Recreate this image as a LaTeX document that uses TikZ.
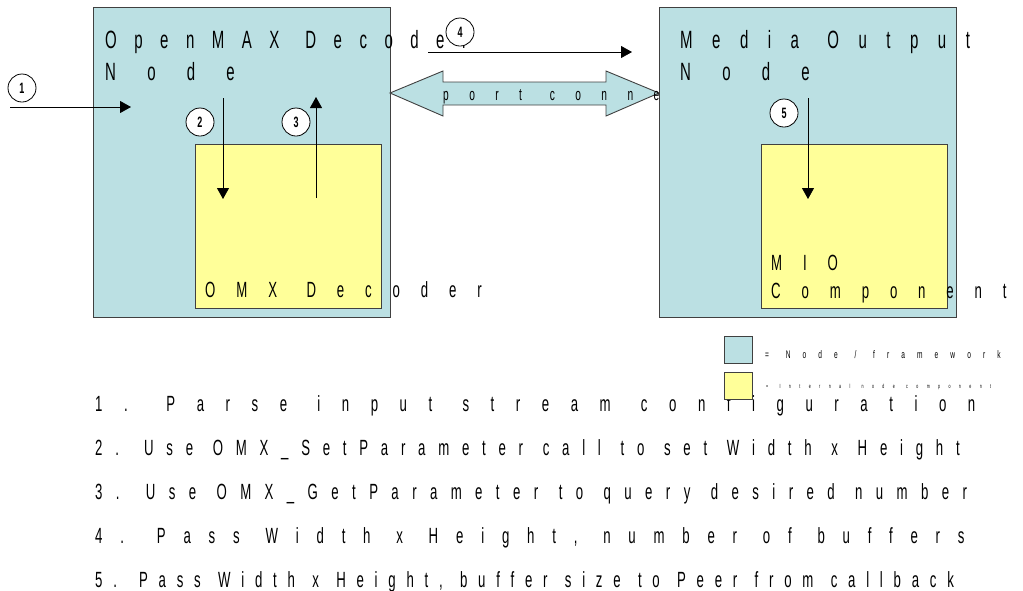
\documentclass[tikz,border=0pt]{standalone}
\usepackage{fontspec}
\setmainfont{Liberation Sans}
\newfontfamily\narrowfont{Liberation Sans}[FakeStretch=0.6,WordSpace=1.2]
\usetikzlibrary{arrows.meta}
\definecolor{nodeblue}{RGB}{187,224,227}
\definecolor{compyellow}{RGB}{255,255,153}
\definecolor{edgegray}{RGB}{64,64,64}
\begin{document}
\begin{tikzpicture}[x=1pt,y=-1pt,
  bluebox/.style={draw=edgegray, line width=0.9pt, fill=nodeblue, anchor=north west, inner sep=0pt},
  yellowbox/.style={draw=edgegray, line width=0.9pt, fill=compyellow, anchor=north west, inner sep=0pt},
  spaced/.style 2 args={anchor=base west, inner sep=0pt, font=\narrowfont\fontsize{#1}{#1}\selectfont\addfontfeature{LetterSpace=#2}},
  titletext/.style={spaced={25}{70}},
  titlewide/.style={spaced={25}{125}},
  comptext/.style={spaced={22}{95}},
  porttext/.style={spaced={17}{120}},
  stepnum/.style={circle, draw=black, line width=0.8pt, fill=white, minimum size=28pt, inner sep=0pt, font=\narrowfont\fontsize{15}{15}\selectfont\bfseries},
  arr/.style={-{Triangle[length=11pt,width=12pt]}, line width=0.8pt, black}
]
\useasboundingbox (0,0) rectangle (1023,590);

% list of steps (drawn first: legend squares cover part of line 1)
\node[spaced={22}{98}] (l1) at (95,411) {1. Parse input stream configuration};
\node[spaced={22}{58}] (l2) at (95,455) {2. Use OMX\_SetParameter call to set Width x Height};
\node[spaced={22}{61}] (l3) at (95,499) {3. Use OMX\_GetParameter to query desired number};
\node[spaced={22}{81}] (l4) at (95,543) {4. Pass Width x Height, number of buffers};
\node[spaced={22}{49}] (l5) at (95,587) {5. Pass Width x Height, buffer size to Peer from callback};

% left node
\node[bluebox, minimum width=297pt, minimum height=310pt] (dec) at (93,7) {};
\node[yellowbox, minimum width=186pt, minimum height=164pt] (omx) at (195,144) {};
\node[titletext] (dect1) at (105,48) {OpenMAX Decoder};
\node[titlewide] (dect2) at (105,80) {Node};
\node[comptext] (omxt) at (205,297) {OMX Decoder};

% step 1
\coordinate (s1a) at (10,107);
\coordinate (s1b) at (131,107);
\draw[arr] (s1a) -- (s1b);
\node[stepnum] (c1) at (22,88) {1};

% step 2
\coordinate (s2a) at (223,98);
\coordinate (s2b) at (223,199);
\draw[arr] (s2a) -- (s2b);
\node[stepnum] (c2) at (200,122) {2};

% step 3
\coordinate (s3a) at (316,198);
\coordinate (s3b) at (316,97);
\draw[arr] (s3a) -- (s3b);
\node[stepnum] (c3) at (296,122) {3};

% step 4
\coordinate (s4a) at (428,52);
\coordinate (s4b) at (632,52);
\draw[arr] (s4a) -- (s4b);
\node[stepnum] (c4) at (460,32) {4};

% port connection block arrow
\draw[draw=edgegray, line width=0.9pt, fill=nodeblue]
  (390,93) -- (443,71) -- (443,82) -- (606,82) -- (606,71) -- (659,93)
  -- (606,116) -- (606,105) -- (443,105) -- (443,116) -- cycle;
\node[porttext] (portt) at (443,100) {port connection};

% right node
\node[bluebox, minimum width=297pt, minimum height=310pt] (mo) at (659,7) {};
\node[yellowbox, minimum width=186pt, minimum height=164pt] (mio) at (761,144) {};
\node[spaced={25}{78}] (mot1) at (680,48) {Media Output};
\node[titlewide] (mot2) at (680,80) {Node};
\node[comptext] (miot1) at (771,270) {MIO};
\node[comptext] (miot2) at (771,298) {Component};

% step 5
\coordinate (s5a) at (808,98);
\coordinate (s5b) at (808,199);
\draw[arr] (s5a) -- (s5b);
\node[stepnum] (c5) at (784,113) {5};

% legend
\node[bluebox, minimum width=28pt, minimum height=27pt] (legblue) at (724,336) {};
\node[yellowbox, minimum width=28pt, minimum height=27pt] (legyellow) at (724,372) {};
\node[spaced={11}{110}] (legA) at (765,358) {= Node / framework};
\node[spaced={6}{140}] (legB) at (766,388) {= Internal node component};
\end{tikzpicture}
\end{document}
